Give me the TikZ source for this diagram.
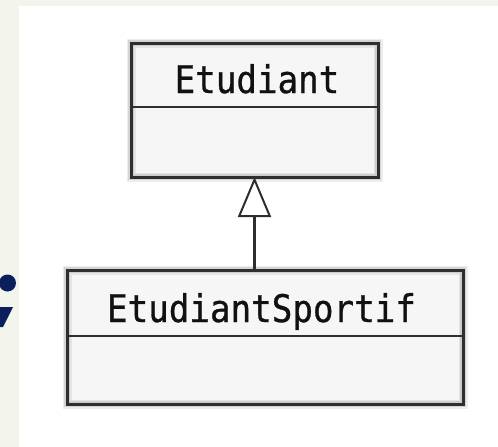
\documentclass[tikz,border=0pt]{standalone}
\usepackage{fontspec}
\newfontfamily\umlmono[FakeStretch=0.9,FakeBold=0.8]{DejaVu Sans Mono}
\usetikzlibrary{arrows.meta}
\definecolor{bgstrip}{HTML}{F3F4EC}
\definecolor{navy}{HTML}{0B1F5C}
\definecolor{umlline}{HTML}{2E2E2E}
\definecolor{umlfill}{HTML}{F6F6F6}
\definecolor{umltext}{HTML}{111111}
\tikzset{
  classbox/.style={rectangle, fill=umlfill, inner sep=0pt, outer sep=0pt},
  halo/.style={draw=black, line width=9pt, opacity=0.07},
  halo2/.style={draw=black, line width=6pt, opacity=0.10},
  border/.style={draw=umlline, line width=3pt},
  classname/.style={inner sep=0pt, anchor=base, text=umltext,
    font=\umlmono\fontsize{38}{40}\selectfont},
  divider/.style={draw=umlline, line width=2.6pt},
  inherit/.style={draw=umlline, line width=2.3pt,
    -{Triangle[open, fill=white, length=40pt, width=33pt, line width=2pt]}},
}
\begin{document}
\begin{tikzpicture}[x=1pt,y=-1pt]
\useasboundingbox (0,0) rectangle (498,447);
\fill[white] (0,0) rectangle (498,447);
\fill[bgstrip] (0,0) rectangle (498,6);
\fill[bgstrip] (0,0) rectangle (19,447);
% semicolon fragment
\fill[navy] (7.5,283) circle[radius=8.5pt];
\fill[navy] (0,307) -- (13,307) -- (3,327) -- (0,327) -- cycle;
% classes
\node[classbox, minimum width=247pt, minimum height=134pt] (etu) at (254.5,110) {};
\node[classbox, minimum width=396pt, minimum height=134pt] (sport) at (265,337) {};
\foreach \n in {etu,sport}{
  \draw[halo] (\n.north west) rectangle (\n.south east);
  \draw[halo2] (\n.north west) rectangle (\n.south east);
  \draw[border] (\n.north west) rectangle (\n.south east);
}
\draw[divider] ([yshift=-64pt]etu.north west) -- ([yshift=-64pt]etu.north east);
\draw[divider] ([yshift=-66pt]sport.north west) -- ([yshift=-66pt]sport.north east);
\node[classname] (etuname) at (257,93) {Etudiant};
\node[classname] (sportname) at (261.5,322) {EtudiantSportif};
% generalization
\draw[inherit] (etu.south |- sport.north) -- (etu.south);
\end{tikzpicture}
\end{document}
